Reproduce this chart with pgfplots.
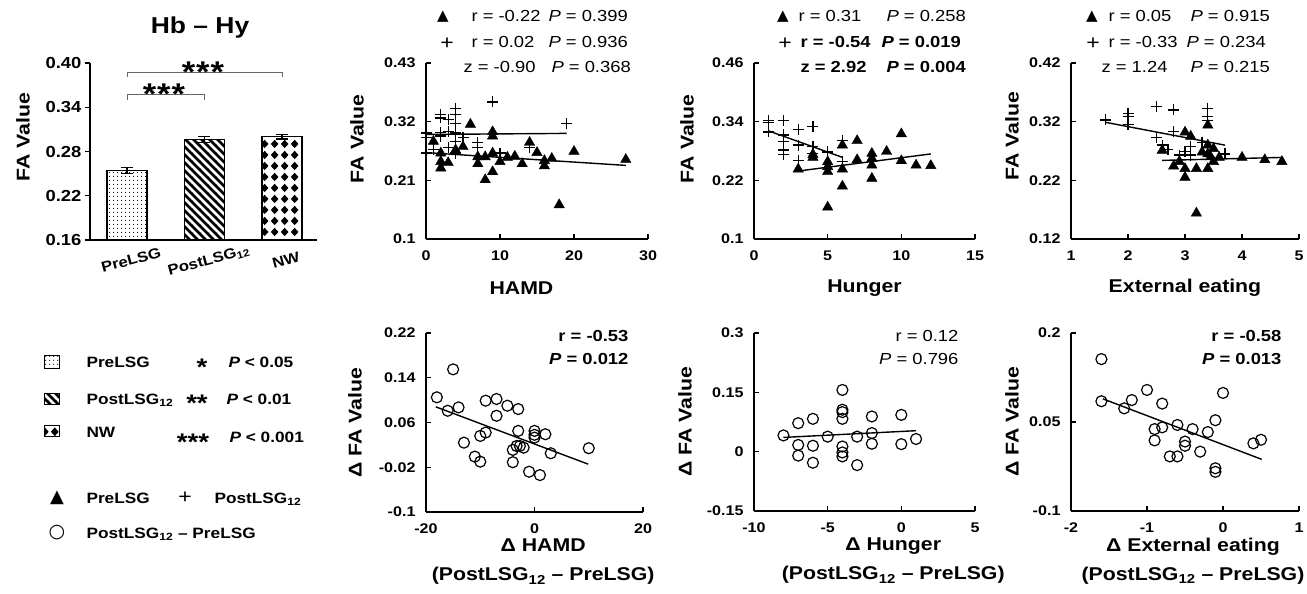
\documentclass[border=0pt]{standalone}
\usepackage{fontspec}
\setmainfont{Liberation Sans}[FakeStretch=1.15]
\newfontfamily\djv{DejaVu Sans}
\usepackage{pgfplots}
\pgfplotsset{compat=1.18}
\usetikzlibrary{patterns}

\newcommand{\fs}[1]{\fontsize{#1}{#1}\selectfont}

% fill patterns of the three bars
\pgfdeclarepatternformonly{mydots}{\pgfqpoint{0pt}{0pt}}{\pgfqpoint{4pt}{4pt}}{\pgfqpoint{4pt}{4pt}}{%
  \pgfpathcircle{\pgfqpoint{2pt}{2pt}}{0.65pt}\pgfusepath{fill}}
\pgfdeclarepatternformonly{mystripes}{\pgfqpoint{-1pt}{-1pt}}{\pgfqpoint{9pt}{9pt}}{\pgfqpoint{8pt}{8pt}}{%
  \pgfsetlinewidth{2.6pt}%
  \pgfpathmoveto{\pgfqpoint{-1pt}{9pt}}\pgfpathlineto{\pgfqpoint{9pt}{-1pt}}\pgfusepath{stroke}}
\pgfdeclarepatternformonly{mydiamonds}{\pgfqpoint{0pt}{0pt}}{\pgfqpoint{10pt}{10.5pt}}{\pgfqpoint{10pt}{10.5pt}}{%
  \pgfpathmoveto{\pgfqpoint{5pt}{0.9pt}}\pgfpathlineto{\pgfqpoint{9.1pt}{5.25pt}}%
  \pgfpathlineto{\pgfqpoint{5pt}{9.6pt}}\pgfpathlineto{\pgfqpoint{0.9pt}{5.25pt}}%
  \pgfpathclose\pgfusepath{fill}}

\pgfplotsset{
  base/.style={
    scale only axis,
    axis x line=bottom, axis y line=left,
    axis line style={-, line width=1.3pt},
    every inner x axis line/.append style={-},
    every inner y axis line/.append style={-},
    every outer x axis line/.append style={-},
    every outer y axis line/.append style={-},
    tick style={line width=1.1pt, black},
    major tick length=5pt,
    ticklabel style={font=\fs{14}\bfseries},
  },
  sc/.style={
    base, tick align=inside, clip=false,
    yticklabel style={xshift=-7pt},
    xticklabel style={yshift=-8pt},
  },
  ylab/.style 2 args={every axis y label/.style={at={(axis description cs:0,#2)}, xshift=#1, rotate=90, anchor=center, font=\fs{18.5}\bfseries}},
  xlab/.style 2 args={every axis x label/.style={at={(axis description cs:#1,0)}, yshift=#2, anchor=center, align=center, font=\fontsize{18.5}{29}\selectfont\bfseries}},
  tri/.style={only marks, mark=triangle*, mark size=6pt, black},
  pls/.style={only marks, mark=+, mark size=5.5pt, black, line width=1.3pt},
  circ/.style={only marks, mark=o, mark size=5.5pt, black, line width=1.2pt},
  fit/.style={no marks, black, line width=1.4pt},
}

\begin{document}
\begin{tikzpicture}[x=1pt,y=1pt]
\useasboundingbox (0,0) rectangle (1307,594);

% ---------- bar chart ----------
\begin{axis}[base, at={(90pt,354pt)}, anchor=south west, width=227pt, height=177pt,
  tick align=outside, ybar, bar width=40pt,
  xmin=-0.477, xmax=2.452, ymin=0.16, ymax=0.40,
  ytick={0.16,0.22,0.28,0.34,0.40}, yticklabels={0.16,0.22,0.28,0.34,0.40},
  yticklabel style={font=\fs{16}\bfseries},
  xtick={0,1,2}, xticklabels={PreLSG,PostLSG\textsubscript{12},NW},
  x tick style={draw=none},
  xticklabel style={font=\fs{14.5}\bfseries, rotate=15, anchor=north, yshift=-7pt},
  ylabel={FA Value}, ylab={-67pt}{0.58}]
\addplot[bar shift=0pt, draw=black, line width=1.3pt, pattern=mydots,
  error bars/.cd, y dir=both, y explicit, error bar style={line width=1.2pt, black},
  error mark options={rotate=90, mark size=6pt, line width=1.2pt, black}]
  coordinates {(0,0.254) +- (0,0.004)};
\addplot[bar shift=0pt, draw=black, line width=1.3pt, pattern=mystripes,
  error bars/.cd, y dir=both, y explicit, error bar style={line width=1.2pt, black},
  error mark options={rotate=90, mark size=6pt, line width=1.2pt, black}]
  coordinates {(1,0.296) +- (0,0.004)};
\addplot[bar shift=0pt, draw=black, line width=1.3pt, pattern=mydiamonds,
  error bars/.cd, y dir=both, y explicit, error bar style={line width=1.2pt, black},
  error mark options={rotate=90, mark size=6pt, line width=1.2pt, black}]
  coordinates {(2,0.300) +- (0,0.003)};
\draw[black!60, line width=0.9pt] (axis cs:0,0.381) |- (axis cs:2,0.387) -- (axis cs:2,0.381);
\draw[black!60, line width=0.9pt] (axis cs:0,0.350) |- (axis cs:1,0.3576) -- (axis cs:1,0.350);
\end{axis}
\node at (200,566) {\fs{23}\bfseries Hb -- Hy};
\node[anchor=base] at (203,511) {\fs{30}\bfseries *\kern1pt*\kern1pt*};
\node[anchor=base] at (164,489) {\fs{30}\bfseries *\kern1pt*\kern1pt*};

% ---------- legend ----------
\draw[line width=1pt, pattern=mydots] (44.5,225.5) rectangle (59.5,238.5);
\draw[line width=1pt, pattern=mystripes] (44.5,189) rectangle (59.5,200);
\draw[line width=1pt, pattern=mydiamonds] (44.5,157.5) rectangle (59.5,168.5);
\begin{scope}[every node/.style={font=\fs{15}\bfseries}]
\node[anchor=base west] at (83,226.6) {PreLSG};
\node[anchor=base west] at (83,189.6) {PostLSG\textsubscript{12}};
\node[anchor=base west] at (83,156.6) {NW};
\node[anchor=base] at (202,218) {\fs{24}*};
\node[anchor=base] at (197,182) {\fs{24}**};
\node[anchor=base] at (193,143) {\fs{24}***};
\node[anchor=base west] at (225,226.6) {\textit{P} < 0.05};
\node[anchor=base west] at (223,189.6) {\textit{P} < 0.01};
\node[anchor=base west] at (226,151.6) {\textit{P} < 0.001};
\node at (57,96) {\djv\fs{18}▲};
\node[anchor=base west] at (83,90.6) {PreLSG};
\node at (185,96) {\fs{20}\mdseries +};
\node[anchor=base west] at (211,90.6) {PostLSG\textsubscript{12}};
\node at (57,61) {\djv\fs{19}\mdseries ○};
\node[anchor=base west] at (83,55.6) {PostLSG\textsubscript{12} -- PreLSG};
\end{scope}

% ---------- HAMD ----------
\begin{axis}[sc, at={(426pt,355pt)}, anchor=south west, width=222pt, height=176pt,
  xmin=0, xmax=30, ymin=0.1, ymax=0.43,
  xtick={0,10,20,30}, xticklabels={0,10,20,30},
  ytick={0.1,0.21,0.32,0.43}, yticklabels={0.1,0.21,0.32,0.43},
  xlabel={HAMD}, ylabel={FA Value}, xlab={0.43}{-49pt}, ylab={-69pt}{0.57}]
\addplot[tri] coordinates {(1,0.283)(2,0.261)(2,0.245)(2,0.233)(3,0.243)(4,0.267)(5,0.273)(6,0.315)(7,0.254)(7,0.241)(8,0.254)(8,0.211)(9,0.301)(9,0.293)(9,0.261)(9,0.226)(10,0.245)(11,0.253)(12,0.255)(13,0.241)(14,0.281)(15,0.262)(16,0.247)(16,0.237)(17,0.251)(18,0.164)(20,0.264)(27,0.249)};
\addplot[pls] coordinates {(9,0.357)(19,0.317)(4,0.345)(4,0.333)(4,0.317)(2,0.333)(2,0.327)(3,0.324)(3,0.302)(0,0.299)(0,0.290)(2,0.293)(4,0.299)(4,0.283)(5,0.290)(1,0.268)(3,0.271)(4,0.261)(7,0.281)(7,0.271)(10,0.261)(14,0.271)(0,0.261)(2,0.300)};
\addplot[fit] coordinates {(0,0.262)(27,0.238)};
\addplot[fit] coordinates {(0,0.296)(19,0.298)};
\end{axis}

% ---------- Hunger ----------
\begin{axis}[sc, at={(754pt,355pt)}, anchor=south west, width=221pt, height=176pt,
  xmin=0, xmax=15, ymin=0.1, ymax=0.46,
  xtick={0,5,10,15}, xticklabels={0,5,10,15},
  ytick={0.1,0.22,0.34,0.46}, yticklabels={0.1,0.22,0.34,0.46},
  xlabel={Hunger}, ylabel={FA Value}, xlab={0.5}{-49pt}, ylab={-67pt}{0.57}]
\addplot[tri] coordinates {(3,0.243)(4,0.267)(4,0.273)(5,0.258)(5,0.248)(5,0.238)(5,0.165)(6,0.292)(6,0.243)(6,0.208)(7,0.301)(7,0.262)(8,0.275)(8,0.265)(8,0.251)(8,0.224)(9,0.279)(10,0.315)(10,0.260)(11,0.251)(12,0.250)};
\addplot[pls] coordinates {(1,0.343)(1,0.338)(1,0.319)(2,0.342)(2,0.313)(2,0.299)(2,0.282)(2,0.273)(3,0.324)(3,0.292)(3,0.260)(4,0.330)(4,0.289)(4,0.275)(5,0.278)(6,0.302)(6,0.258)};
\addplot[fit] coordinates {(3,0.239)(12,0.274)};
\addplot[fit] coordinates {(1,0.321)(6,0.267)};
\end{axis}

% ---------- External eating ----------
\begin{axis}[sc, at={(1071pt,355pt)}, anchor=south west, width=228pt, height=176pt,
  xmin=1, xmax=5, ymin=0.12, ymax=0.42,
  xtick={1,2,3,4,5}, xticklabels={1,2,3,4,5},
  ytick={0.12,0.22,0.32,0.42}, yticklabels={0.12,0.22,0.32,0.42},
  xlabel={External eating}, ylabel={FA Value}, xlab={0.5}{-49pt}, ylab={-59pt}{0.585}]
\addplot[tri] coordinates {(3.0,0.302)(3.1,0.295)(3.4,0.314)(3.4,0.280)(3.5,0.274)(3.4,0.265)(3.3,0.268)(2.6,0.271)(2.8,0.244)(2.9,0.252)(3.0,0.240)(3.0,0.225)(3.2,0.240)(3.4,0.240)(3.5,0.252)(3.6,0.259)(4.0,0.259)(4.4,0.255)(4.7,0.252)(3.2,0.164)(3.45,0.260)};
\addplot[pls] coordinates {(1.6,0.323)(2.0,0.334)(2.0,0.329)(2.0,0.315)(2.5,0.346)(2.8,0.340)(2.8,0.303)(2.5,0.293)(2.6,0.280)(2.7,0.272)(2.9,0.263)(3.0,0.269)(3.1,0.278)(3.1,0.263)(3.4,0.343)(3.4,0.329)(3.4,0.322)(3.3,0.285)(3.7,0.265)};
\addplot[fit] coordinates {(2.6,0.254)(4.7,0.259)};
\addplot[fit] coordinates {(1.6,0.319)(3.7,0.280)};
\end{axis}

% ---------- delta HAMD ----------
\begin{axis}[sc, at={(426pt,82pt)}, anchor=south west, width=217pt, height=179pt,
  xmin=-20, xmax=20, ymin=-0.1, ymax=0.22,
  xtick={-20,0,20}, xticklabels={-20,0,20},
  ytick={-0.1,-0.02,0.06,0.14,0.22}, yticklabels={-0.1,-0.02,0.06,0.14,0.22},
  xlabel={Δ HAMD\\(PostLSG\textsubscript{12} -- PreLSG)}, ylabel={Δ FA Value},
  xlab={0.54}{-50pt}, ylab={-71pt}{0.5}]
\addplot[circ] coordinates {(-18,0.105)(-16,0.081)(-14,0.087)(-15,0.155)(-13,0.024)(-11,-0.001)(-10,-0.010)(-10,0.036)(-9,0.042)(-9,0.099)(-7,0.102)(-7,0.072)(-5,0.090)(-3,0.084)(-3,0.045)(-4,0.011)(-4,-0.011)(-3.3,0.018)(-2.7,0.018)(-2,0.015)(0,0.045)(0,0.038)(0,0.033)(2,0.039)(-1,-0.028)(1,-0.034)(3,0.005)(10,0.014)};
\addplot[fit] coordinates {(-18.2,0.088)(9.9,-0.0145)};
\end{axis}

% ---------- delta Hunger ----------
\begin{axis}[sc, at={(754pt,83pt)}, anchor=south west, width=221pt, height=178pt,
  xmin=-10, xmax=5, ymin=-0.15, ymax=0.3,
  xtick={-10,-5,0,5}, xticklabels={-10,-5,0,5},
  ytick={-0.15,0,0.15,0.3}, yticklabels={-0.15,0,0.15,0.3},
  xlabel={Δ Hunger\\(PostLSG\textsubscript{12} -- PreLSG)}, ylabel={Δ FA Value},
  xlab={0.63}{-50pt}, ylab={-69pt}{0.5}]
\addplot[circ] coordinates {(-8,0.041)(-7,0.072)(-7,0.017)(-7,-0.010)(-6,0.083)(-6,0.015)(-6,-0.028)(-5,0.038)(-4,0.156)(-4,0.106)(-4,0.100)(-4,0.083)(-4,0.013)(-4,-0.002)(-4,-0.012)(-3,0.038)(-3,-0.034)(-2,0.089)(-2,0.047)(-2,0.020)(0,0.093)(0,0.019)(1,0.032)};
\addplot[fit] coordinates {(-8,0.036)(1,0.053)};
\end{axis}

% ---------- delta External eating ----------
\begin{axis}[sc, at={(1071pt,83pt)}, anchor=south west, width=228pt, height=178pt,
  xmin=-2, xmax=1, ymin=-0.1, ymax=0.2,
  xtick={-2,-1,0,1}, xticklabels={-2,-1,0,1},
  ytick={-0.1,0.05,0.2}, yticklabels={-0.1,0.05,0.2},
  xlabel={Δ External eating\\(PostLSG\textsubscript{12} -- PreLSG)}, ylabel={Δ FA Value},
  xlab={0.535}{-50pt}, ylab={-59pt}{0.5}]
\addplot[circ] coordinates {(-1.6,0.156)(-1.6,0.085)(-1.3,0.073)(-1.2,0.087)(-1.0,0.104)(-0.8,0.081)(-0.9,0.038)(-0.9,0.019)(-0.8,0.041)(-0.7,-0.008)(-0.6,-0.008)(-0.6,0.045)(-0.5,0.017)(-0.5,0.010)(-0.4,0.038)(-0.3,0.0)(-0.2,0.033)(-0.1,-0.028)(-0.1,-0.034)(-0.1,0.053)(0,0.099)(0.4,0.014)(0.5,0.020)};
\addplot[fit] coordinates {(-1.58,0.089)(0.51,-0.013)};
\end{axis}

% ---------- statistics ----------
\begin{scope}[every node/.style={font=\fs{16}}]
% HAMD
\node at (443,577.3) {\djv\fs{15}▲};
\node at (447,550.7) {\fs{20}+};
\node[anchor=base west] at (468,572.7) {r = -0.22};
\node[anchor=base west] at (545,572.7) {\textit{P} = 0.399};
\node[anchor=base west] at (468,546.1) {r = 0.02};
\node[anchor=base west] at (545,546.1) {\textit{P} = 0.936};
\node[anchor=base west] at (460,521.1) {z = -0.90};
\node[anchor=base west] at (548,521.1) {\textit{P} = 0.368};
% Hunger
\node at (783,577.3) {\djv\fs{15}▲};
\node at (785,550.7) {\fs{20}+};
\node[anchor=base west] at (795,572.7) {r = 0.31};
\node[anchor=base west] at (883,572.7) {\textit{P} = 0.258};
\node[anchor=base west] at (797,546.1) {\bfseries r = -0.54};
\node[anchor=base west] at (878,546.1) {\bfseries\textit{P} = 0.019};
\node[anchor=base west] at (797,521.1) {\bfseries z = 2.92};
\node[anchor=base west] at (883,521.1) {\bfseries\textit{P} = 0.004};
% External eating
\node at (1092,577.3) {\djv\fs{15}▲};
\node at (1093,550.7) {\fs{20}+};
\node[anchor=base west] at (1105,572.7) {r = 0.05};
\node[anchor=base west] at (1187,572.7) {\textit{P} = 0.915};
\node[anchor=base west] at (1105,546.1) {r = -0.33};
\node[anchor=base west] at (1183,546.1) {\textit{P} = 0.234};
\node[anchor=base west] at (1098,521.1) {z = 1.24};
\node[anchor=base west] at (1187,521.1) {\textit{P} = 0.215};
% bottom row
\node[anchor=base east] at (632,252.4) {\bfseries r = -0.53};
\node[anchor=base east] at (632,229.4) {\bfseries\textit{P} = 0.012};
\node[anchor=base east] at (962,252.4) {r = 0.12};
\node[anchor=base east] at (962,229.4) {\textit{P} = 0.796};
\node[anchor=base east] at (1285,252.4) {\bfseries r = -0.58};
\node[anchor=base east] at (1285,229.4) {\bfseries\textit{P} = 0.013};
\end{scope}
\end{tikzpicture}
\end{document}
